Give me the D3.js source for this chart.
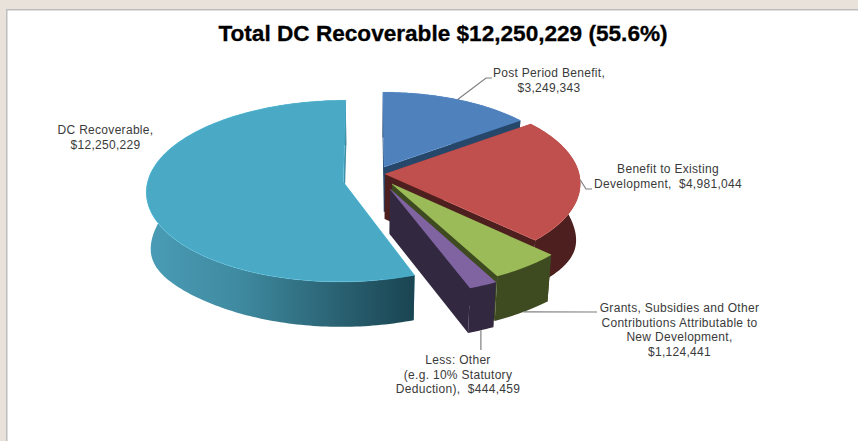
<!DOCTYPE html>
<html>
<head>
<meta charset="utf-8">
<script src="https://cdn.jsdelivr.net/npm/d3@7/dist/d3.min.js"></script>
<style>
  html, body { margin: 0; padding: 0; background: #e9e2da; }
  svg { display: block; }
  text { font-family: "Liberation Sans", Arial, sans-serif; white-space: pre; }
</style>
</head>
<body>
<svg id="chart" width="858" height="441"></svg>
<script>
// Cost allocation values, in dollars, clockwise from twelve o'clock.
const categories = ["Post Period Benefit", "Benefit to Existing Development", "Grants, Subsidies and Other", "Less: Other", "DC Recoverable"];
const values = [3249343, 4981044, 1124441, 444459, 12250229];
const titleText = "Total DC Recoverable $12,250,229 (55.6%)";

const labelLines = [
  ["Post Period Benefit,", "$3,249,343"],
  ["Benefit to Existing", "Development,  $4,981,044"],
  ["Grants, Subsidies and Other", "Contributions Attributable to", "New Development,", "$1,124,441"],
  ["Less: Other", "(e.g. 10% Statutory", "Deduction),  $444,459"],
  ["DC Recoverable,", "$12,250,229"]
];

// Slice styling and layout.
const topColors  = ["#4f81bd", "#c0504d", "#9bbb59", "#8064a2", "#4aaac6"];
const sideColors = ["#26466a", "#4d1f1e", "#3e4a20", "#32283f", "url(#dcSide)"];
const cutColors  = ["#26466a", "#4d1f1e", "#3e4a20", "#32283f", "#3f8ea6"];
// Explosion of each slice on the pie plane: [horizontal px, depth in radii].
const explode = [[14.2, -0.1237], [15.1, -0.0446], [21.85, 0.0662], [19.76, 0.1207], [-26.5, 0.0444]];
const radiusScale = [0.93, 0.99, 1.03, 1.03, 0.99];

const labelCenter = [549, 668, 679.5, 458, 105.5];
const labelFirstBaseline = [77, 173, 312, 364, 134];
const lineStep = [15, 15, 14.6, 14.6, 15];
const leaderLevel = [0, 0, 1, 1, null];
const leaderKnees = [[[486, 78], [492, 78]], [[586, 189], [592, 189]], [[597, 312]], [[null, 350]], null];

// Perspective camera for the tilted pie; the lower rim sags a little at the flanks.
const cam = { cx: 370, cy: 178, rx: 197, ry: 90, k: 0.1, depth: 45, sag: 12, lowerShrink: 0.98 };

function project(slice, angle, level) {
  const r = radiusScale[slice];
  const u = Math.sin(angle), v = -Math.cos(angle);
  const p = explode[slice][1] + v * r;
  const s = 1 / (1 - cam.k * p);
  const shrink = level ? cam.lowerShrink : 1;
  return [
    cam.cx + (explode[slice][0] + u * cam.rx * r) * s * shrink,
    cam.cy + cam.ry * p * s + (level ? cam.depth + cam.sag * Math.pow(u, 6) : 0)
  ];
}
function apex(slice, level) {
  const p = explode[slice][1];
  const s = 1 / (1 - cam.k * p);
  return [
    cam.cx + explode[slice][0] * s * (level ? cam.lowerShrink : 1),
    cam.cy + cam.ry * p * s + (level ? cam.depth : 0)
  ];
}
function arcPoints(slice, a0, a1, level) {
  const n = Math.max(4, Math.ceil((a1 - a0) / 0.02));
  return d3.range(n + 1).map(i => project(slice, a0 + (a1 - a0) * i / n, level));
}

const svg = d3.select("#chart");
const poly = d3.line().curve(d3.curveLinearClosed);
const open = d3.line();

const defs = svg.append("defs");
const grad = defs.append("linearGradient").attr("id", "dcSide")
  .attr("gradientUnits", "userSpaceOnUse")
  .attr("x1", 146).attr("x2", 412).attr("y1", 0).attr("y2", 0);
[[0, "#4a9cb6"], [0.35, "#3f8aa0"], [0.7, "#2b6475"], [1, "#1b4552"]].forEach(([o, c]) =>
  grad.append("stop").attr("offset", o).attr("stop-color", c));

// White chart panel with its bevelled edge on the top and left.
svg.append("rect").attr("x", 6).attr("y", 9).attr("width", 852).attr("height", 432).attr("fill", "#bdbdbd");
svg.append("rect").attr("x", 7.5).attr("y", 10.5).attr("width", 851).attr("height", 431).attr("fill", "#ffffff");

svg.append("text").attr("x", 443).attr("y", 41)
  .attr("text-anchor", "middle").attr("font-size", 22.6).attr("font-weight", "bold").attr("fill", "#000")
  .attr("stroke", "#000").attr("stroke-width", 0.3)
  .text(titleText);

const arcs = d3.pie().sort(null).startAngle(0).endAngle(2 * Math.PI)(values);

// Slices are painted back to front: start face, rim, end face, then the top.
const sliceGroups = svg.append("g").selectAll("g").data(arcs).join("g")
  .attr("class", (d, i) => "slice slice-" + i);

sliceGroups.each(function (d, i) {
  const g = d3.select(this);
  const a0 = d.startAngle, a1 = d.endAngle;
  const topStart = project(i, a0, 0), lowStart = project(i, a0, 1);
  const topEnd = project(i, a1, 0), lowEnd = project(i, a1, 1);
  const ap0 = apex(i, 0), ap1 = apex(i, 1);

  g.append("path").attr("d", poly([ap0, topStart, lowStart, ap1])).attr("fill", cutColors[i]);
  g.append("path")
    .attr("d", poly(arcPoints(i, a0, a1, 0).concat(arcPoints(i, a0, a1, 1).reverse())))
    .attr("fill", sideColors[i]);
  g.append("path").attr("d", poly([ap0, topEnd, lowEnd, ap1])).attr("fill", cutColors[i]);
  g.append("path")
    .attr("d", poly([ap0].concat(arcPoints(i, a0, a1, 0))))
    .attr("fill", topColors[i])
    .attr("stroke", d3.color(topColors[i]).brighter(0.7))
    .attr("stroke-opacity", 0.35).attr("stroke-width", 0.8);
});

// Leader lines run from the middle of a slice's rim out to its label.
arcs.forEach((d, i) => {
  if (!leaderKnees[i]) return;
  const start = project(i, (d.startAngle + d.endAngle) / 2, leaderLevel[i]);
  const pts = [start].concat(leaderKnees[i].map(([x, y]) => [x === null ? start[0] : x, y]));
  svg.append("path").attr("d", open(pts)).attr("fill", "none")
    .attr("stroke", "#7f7f7f").attr("stroke-width", 1.2);
});

labelLines.forEach((lines, i) => {
  const t = svg.append("text").attr("text-anchor", "middle")
    .attr("font-size", 12).attr("letter-spacing", 0.3).attr("fill", "#3a3a3a");
  lines.forEach((line, j) => {
    t.append("tspan").attr("x", labelCenter[i]).attr("y", labelFirstBaseline[i] + j * lineStep[i]).text(line);
  });
});
</script>
</body>
</html>
